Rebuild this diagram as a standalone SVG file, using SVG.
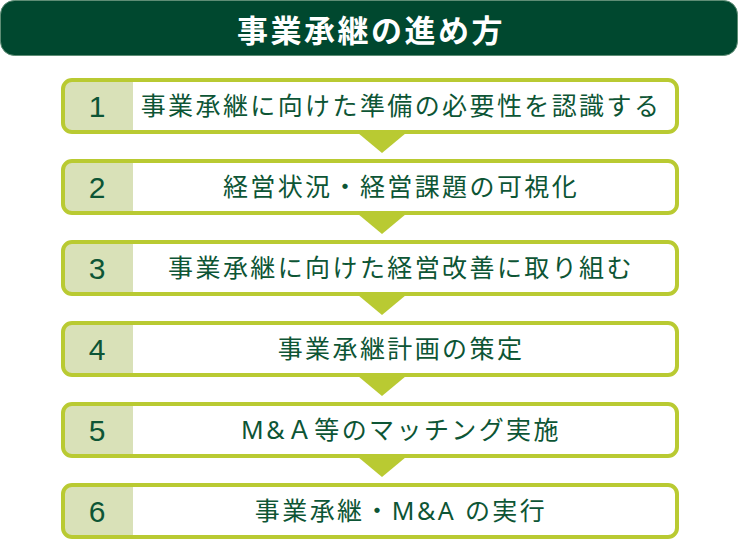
<svg xmlns="http://www.w3.org/2000/svg" width="740" height="553" viewBox="0 0 740 553">
<defs>
<style>
.box{fill:#ffffff;}
.frame{fill:none;stroke:#b9ca32;stroke-width:4;}
.panel{fill:#d9e1b8;}
.num{font-family:"Liberation Sans","Noto Sans",sans-serif;font-size:30px;fill:#0d5535;text-anchor:middle;}
.lbl{font-family:"Noto Sans","Noto Sans CJK JP",sans-serif;font-size:25px;fill:#0d5535;text-anchor:middle;letter-spacing:2.4px;}
.arr{fill:#b9ca32;}
</style>
</defs>
<g id="title">
<rect x="0.5" y="0.5" width="737" height="55" rx="14" fill="#00482f" stroke="#5e8d75" stroke-width="1"/>
<text x="371" y="42" font-family="'Noto Sans CJK JP',sans-serif" font-size="31" font-weight="bold" fill="#ffffff" text-anchor="middle" letter-spacing="2.5">事業承継の進め方</text>
</g>
<g id="connectors">
<polygon class="arr" points="358,133 406,133 382,153"/>
<polygon class="arr" points="358,214 406,214 382,234"/>
<polygon class="arr" points="358,295 406,295 382,315"/>
<polygon class="arr" points="358,376 406,376 382,396"/>
<polygon class="arr" points="358,457 406,457 382,477"/>
</g>
<g id="step1" transform="translate(0,78)">
<rect class="box" x="63" y="2" width="614" height="52" rx="9"/>
<path class="panel" d="M72,2 H133 V54 H72 A9,9 0 0 1 63,45 V11 A9,9 0 0 1 72,2 Z"/>
<rect class="frame" x="63" y="2" width="614" height="52" rx="9"/>
<text class="num" x="97" y="39">1</text>
<text class="lbl" x="401" y="37">事業承継に向けた準備の必要性を認識する</text>
</g>
<g id="step2" transform="translate(0,159)">
<rect class="box" x="63" y="2" width="614" height="52" rx="9"/>
<path class="panel" d="M72,2 H133 V54 H72 A9,9 0 0 1 63,45 V11 A9,9 0 0 1 72,2 Z"/>
<rect class="frame" x="63" y="2" width="614" height="52" rx="9"/>
<text class="num" x="97" y="39">2</text>
<text class="lbl" x="401" y="37">経営状況・経営課題の可視化</text>
</g>
<g id="step3" transform="translate(0,240)">
<rect class="box" x="63" y="2" width="614" height="52" rx="9"/>
<path class="panel" d="M72,2 H133 V54 H72 A9,9 0 0 1 63,45 V11 A9,9 0 0 1 72,2 Z"/>
<rect class="frame" x="63" y="2" width="614" height="52" rx="9"/>
<text class="num" x="97" y="39">3</text>
<text class="lbl" x="401" y="37">事業承継に向けた経営改善に取り組む</text>
</g>
<g id="step4" transform="translate(0,321)">
<rect class="box" x="63" y="2" width="614" height="52" rx="9"/>
<path class="panel" d="M72,2 H133 V54 H72 A9,9 0 0 1 63,45 V11 A9,9 0 0 1 72,2 Z"/>
<rect class="frame" x="63" y="2" width="614" height="52" rx="9"/>
<text class="num" x="97" y="39">4</text>
<text class="lbl" x="401" y="37">事業承継計画の策定</text>
</g>
<g id="step5" transform="translate(0,402)">
<rect class="box" x="63" y="2" width="614" height="52" rx="9"/>
<path class="panel" d="M72,2 H133 V54 H72 A9,9 0 0 1 63,45 V11 A9,9 0 0 1 72,2 Z"/>
<rect class="frame" x="63" y="2" width="614" height="52" rx="9"/>
<text class="num" x="97" y="39">5</text>
<text class="lbl" x="401" y="37">M&amp;Ａ等のマッチング実施</text>
</g>
<g id="step6" transform="translate(0,483)">
<rect class="box" x="63" y="2" width="614" height="52" rx="9"/>
<path class="panel" d="M72,2 H133 V54 H72 A9,9 0 0 1 63,45 V11 A9,9 0 0 1 72,2 Z"/>
<rect class="frame" x="63" y="2" width="614" height="52" rx="9"/>
<text class="num" x="97" y="39">6</text>
<text class="lbl" x="401" y="37">事業承継・M&amp;A の実行</text>
</g>
</svg>
